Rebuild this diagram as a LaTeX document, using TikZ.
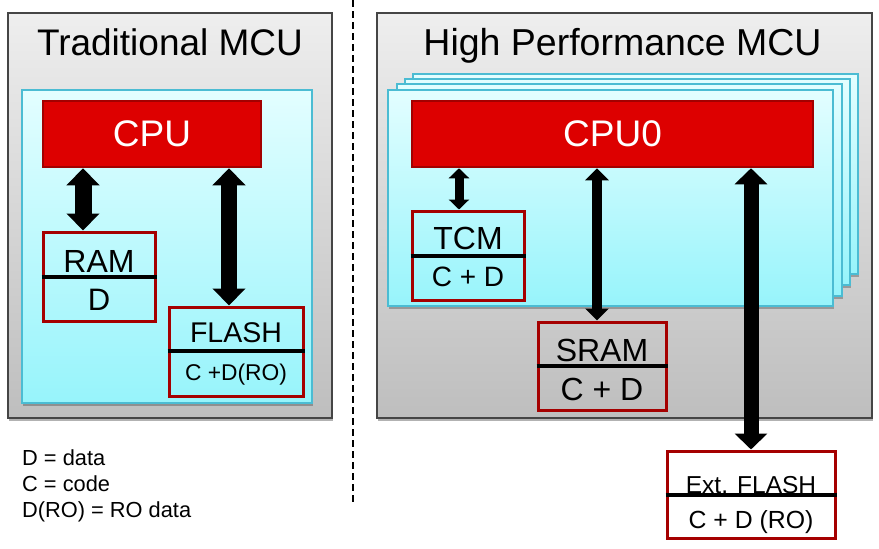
\documentclass[tikz,border=0pt]{standalone}
\usepackage{fontspec}
\setmainfont{Liberation Sans}
\usetikzlibrary{arrows.meta,shadows}
\definecolor{graytop}{HTML}{EEEEEE}
\definecolor{graybot}{HTML}{BEBEBE}
\definecolor{grayline}{HTML}{454545}
\definecolor{cyantop}{HTML}{E3FEFF}
\definecolor{cyanbot}{HTML}{97F4FB}
\definecolor{cyanline}{HTML}{4BBCD3}
\definecolor{cpured}{HTML}{DD0000}
\definecolor{cpuline}{HTML}{A30000}
\definecolor{memline}{HTML}{A50000}
\newcommand\myfs[1]{\fontsize{#1}{#1}\selectfont}
\tikzset{
  outerbox/.style={draw=grayline, line width=1.6pt, top color=graytop, bottom color=graybot,
    inner sep=0pt, drop shadow={shadow xshift=1pt, shadow yshift=-3pt, opacity=0.3, fill=black}},
  cyanbox/.style={draw=cyanline, line width=1.6pt, top color=cyantop, bottom color=cyanbot,
    inner sep=0pt, drop shadow={shadow xshift=1pt, shadow yshift=-3pt, opacity=0.25, fill=black}},
  cpubox/.style={draw=cpuline, line width=2.5pt, fill=cpured, text=white, inner sep=0pt,
    font=\myfs{37}},
  membox/.style={draw=memline, line width=3pt, inner sep=0pt},
  divider/.style={line width=4pt, black},
  memtext/.style={anchor=base, inner sep=0pt},
  fat/.style n args={3}{line width=#1, black,
    arrows={Triangle[width=#2,length=#3]-Triangle[width=#2,length=#3]}},
  legend/.style={anchor=base west, inner sep=0pt, font=\myfs{21.8}},
}
\begin{document}
\begin{tikzpicture}[x=1pt,y=-1pt]
\useasboundingbox (0,0) rectangle (879,549);
% separator
\coordinate (sepA) at (353,0);
\coordinate (sepB) at (353,505);
\draw[line width=1.3pt, dash pattern=on 7pt off 4pt] (sepA) -- (sepB);

% ---------- Traditional MCU ----------
\node[outerbox, minimum width=324pt, minimum height=405pt] (lout) at (170,215.5) {};
\node[anchor=base, inner sep=0pt, font=\myfs{37}] (ltitle) at (170,55) {Traditional MCU};
\node[cyanbox, minimum width=290pt, minimum height=313pt] (lcyan) at (167,246.5) {};
\node[cpubox, minimum width=218pt, minimum height=66pt] (cpu) at (152,134) {CPU};
\node[membox, minimum width=112pt, minimum height=89pt] (ram) at (99,276.5) {};
\draw[divider] (ram.west |- 0,277) -- (ram.east |- 0,277);
\node[memtext, font=\myfs{32}] (ramt) at (99,272) {RAM};
\node[memtext, font=\myfs{31}] (ramd) at (99,310) {D};
\node[membox, minimum width=134pt, minimum height=89pt] (flash) at (236,351.5) {};
\draw[divider] (flash.west |- 0,351) -- (flash.east |- 0,351);
\node[memtext, font=\myfs{28.5}] (flasht) at (236,342) {FLASH};
\node[memtext, font=\myfs{22.8}] (flashd) at (236,380) {C +D(RO)};
\coordinate (x1) at (83,0);
\coordinate (x2) at (229,0);
\draw[fat={17pt}{32pt}{17pt}] (cpu.south -| x1) -- (ram.north -| x1);
\draw[fat={16pt}{32pt}{17pt}] (cpu.south -| x2) -- (flash.north -| x2);

% legend
\node[legend] (lg1) at (22,465) {D = data};
\node[legend] (lg2) at (22,491) {C = code};
\node[legend] (lg3) at (22,517) {D(RO) = RO data};

% ---------- High Performance MCU ----------
\node[outerbox, minimum width=495pt, minimum height=405pt] (rout) at (624.5,215.5) {};
\node[anchor=base, inner sep=0pt, font=\myfs{37.5}] (rtitle) at (622.5,55) {High Performance MCU};
\node[cyanbox, minimum width=445pt, minimum height=200pt] (c4) at (635.5,174) {};
\node[cyanbox, minimum width=445pt, minimum height=206pt] (c3) at (627.5,182) {};
\node[cyanbox, minimum width=445pt, minimum height=212pt] (c2) at (619.5,190) {};
\node[cyanbox, minimum width=445pt, minimum height=216pt] (c1) at (610.5,198) {};
\node[cpubox, minimum width=401pt, minimum height=66pt] (cpu0) at (612.5,134) {CPU0};
\node[membox, minimum width=112pt, minimum height=89pt] (tcm) at (468,255.5) {};
\draw[divider] (tcm.west |- 0,256) -- (tcm.east |- 0,256);
\node[memtext, font=\myfs{32}] (tcmt) at (468,249) {TCM};
\node[memtext, font=\myfs{28}] (tcmd) at (468,286) {C + D};
\node[membox, minimum width=128pt, minimum height=88pt] (sram) at (602,366) {};
\draw[divider] (sram.west |- 0,366) -- (sram.east |- 0,366);
\node[memtext, font=\myfs{32}] (sramt) at (602,361) {SRAM};
\node[memtext, font=\myfs{32}] (sramd) at (602,400) {C + D};
\node[membox, minimum width=168pt, minimum height=87pt] (ext) at (751,494.5) {};
\node[memtext, font=\myfs{24.5}] (extt) at (751,493) {Ext. FLASH};
\draw[divider] (ext.west |- 0,495) -- (ext.east |- 0,495);
\node[memtext, font=\myfs{24.8}] (extd) at (751,528) {C + D (RO)};
\coordinate (x3) at (459,0);
\coordinate (x4) at (597,0);
\coordinate (x5) at (751,0);
\draw[fat={9pt}{20pt}{10pt}] (cpu0.south -| x3) -- (tcm.north -| x3);
\draw[fat={10pt}{23pt}{12pt}] (cpu0.south -| x4) -- (sram.north -| x4);
\draw[fat={15pt}{32pt}{16pt}] (cpu0.south -| x5) -- (ext.north -| x5);
\end{tikzpicture}
\end{document}
